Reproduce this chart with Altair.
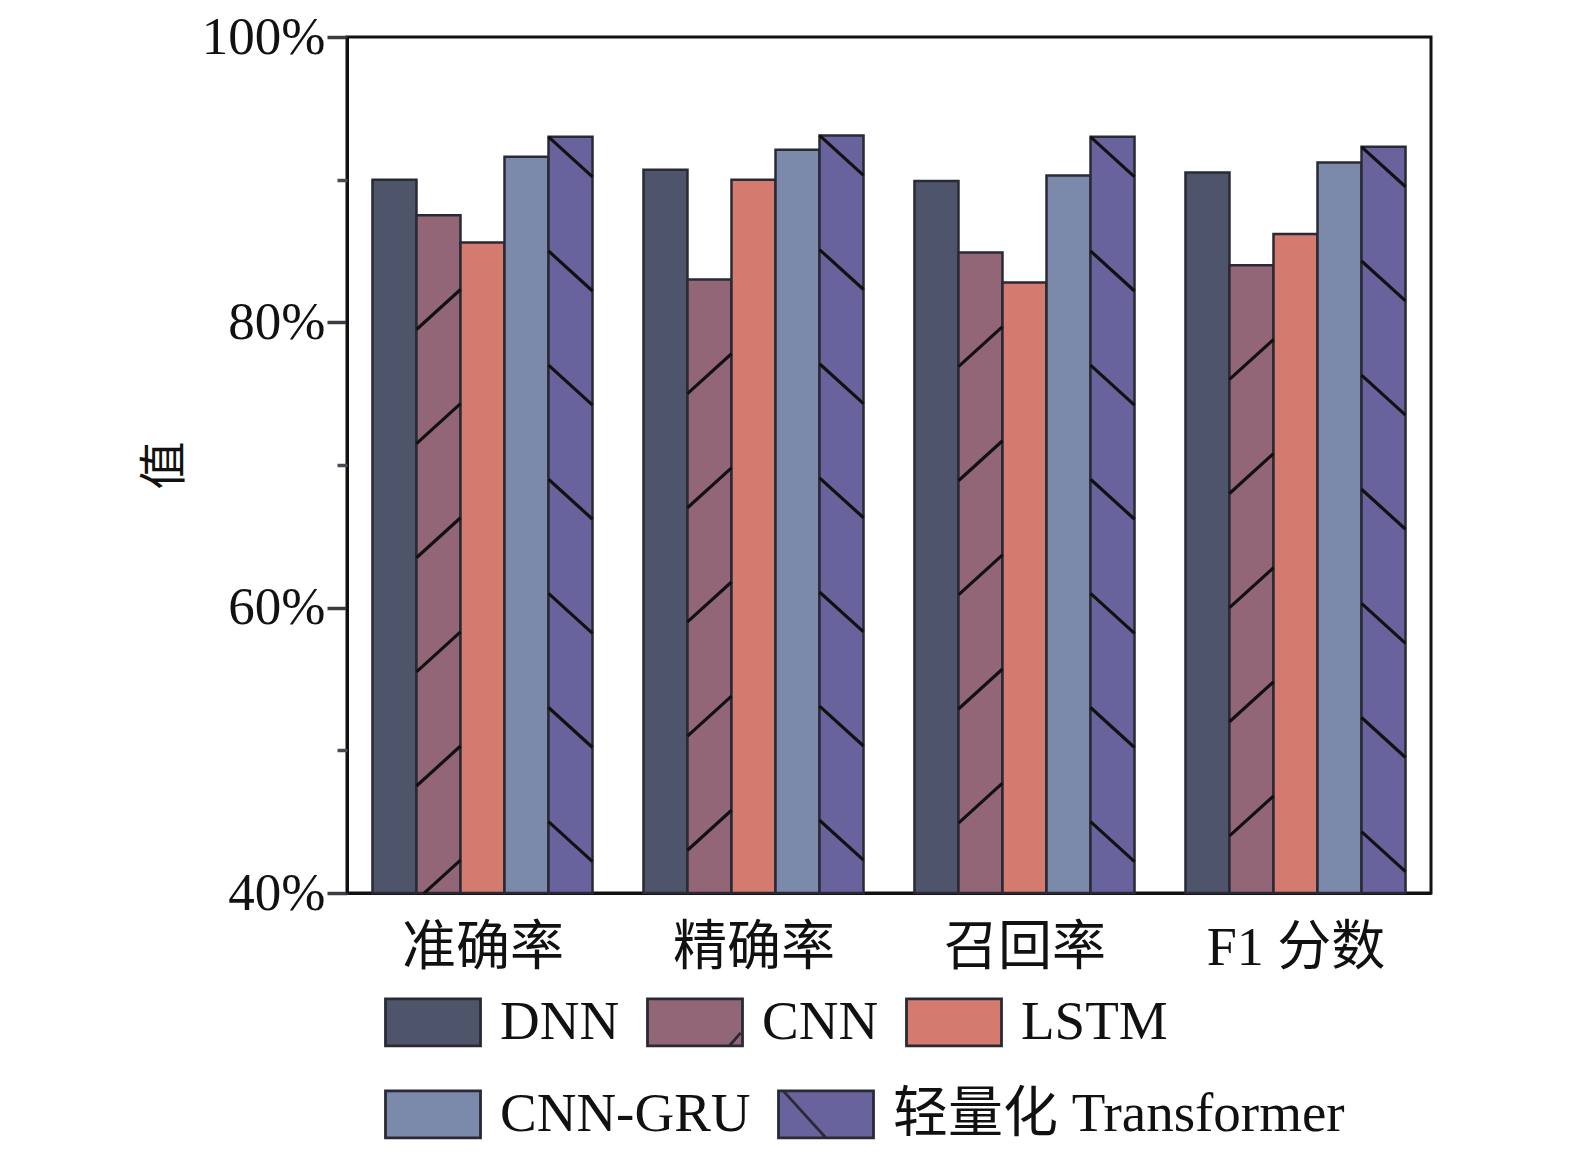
import json
import altair as alt
import pandas as pd

# ---------------- data ----------------
categories = ["准确率", "精确率", "召回率", "F1 分数"]
models = ["DNN", "CNN", "LSTM", "CNN-GRU", "轻量化 Transformer"]
dnn = [90.0, 90.7, 89.9, 90.5]
cnn = [87.5, 83.0, 84.9, 84.0]
lstm = [85.6, 90.0, 82.8, 86.2]
cnn_gru = [91.6, 92.1, 90.3, 91.2]
transformer = [93.0, 93.1, 93.0, 92.3]
y_ticks = [40, 60, 80, 100]
y_minor_ticks = [50, 70, 90]

series = [dnn, cnn, lstm, cnn_gru, transformer]

# ---------------- styles ----------------
colors = ["#4e5469", "#936677", "#d57a6e", "#7b89aa", "#68639d"]
hatch_kind = [None, "/", None, None, "\\"]
RECT = "M-1,-0.495L1,-0.495L1,0.495L-1,0.495Z"
shapes = [RECT, RECT + "M0.72,0.495L0.96,0.22", RECT, RECT, RECT + "M-0.9,-0.495L0,0.495"]
SERIF = "Liberation Serif, Noto Sans CJK SC"
STROKE = "#2a2a36"
GROUP_W = 0.812
BAR_W = GROUP_W / len(models)
Y_MIN, Y_MAX = 40, 100
HATCH_STEP = 8.0
HATCH_DROP = 2.8

rows, hrows = [], []
for g, cat in enumerate(categories):
    for s, m in enumerate(models):
        v = series[s][g]
        x0 = g - GROUP_W / 2 + s * BAR_W
        x1 = x0 + BAR_W
        rows.append({"cat": cat, "model": m, "x0": x0, "x1": x1,
                     "xc": (x0 + x1) / 2, "value": v})
        kind = hatch_kind[s]
        if kind == "/":
            k = 1
            while v - HATCH_STEP * k + HATCH_DROP > Y_MIN:
                yl = v - HATCH_STEP * k
                hrows.append({"x0": x0, "x1": x1, "y0": yl, "y1": yl + HATCH_DROP})
                k += 1
        elif kind == "\\":
            k = 0
            while v - HATCH_STEP * k > Y_MIN:
                yl = v - HATCH_STEP * k
                hrows.append({"x0": x0, "x1": x1, "y0": yl, "y1": yl - HATCH_DROP})
                k += 1

df = pd.DataFrame(rows)
hdf = pd.DataFrame(hrows)

xscale = alt.Scale(domain=[-0.5, len(categories) - 0.5], nice=False, zero=False)
yscale = alt.Scale(domain=[Y_MIN, Y_MAX], nice=False, zero=False)

label_expr = json.dumps(categories, ensure_ascii=False) + "[datum.value]"

xaxis = alt.Axis(values=list(range(len(categories))), labelExpr=label_expr,
                 ticks=False, grid=False, title=None, labelFont=SERIF,
                 labelFontSize=54, labelColor="#111", labelPadding=28,
                 domainColor="#111", domainWidth=3)
yaxis = alt.Axis(values=y_ticks, labelExpr="datum.value + '%'", grid=False,
                 title="值", titleFont="Noto Sans CJK SC", titleFontSize=48,
                 titleFontWeight="normal", titleColor="#111", titleX=-182,
                 titleY=428, titleAlign="center", titleBaseline="middle",
                 labelFont=SERIF, labelFontSize=53, labelColor="#111",
                 labelPadding=2, tickSize=20, tickWidth=3.5, tickColor="#3c3c44",
                 domainColor="#111", domainWidth=3, orient="left")
yaxis_minor = alt.Axis(values=y_minor_ticks, labels=False, grid=False, title=None,
                       domain=False, tickSize=10, tickWidth=3.5,
                       tickColor="#4a4a52", orient="left")


def make_legend(ly):
    return alt.Legend(
        title=None, orient="none", legendX=37, legendY=ly, direction="horizontal",
        columnPadding=21, symbolSize=9025, symbolStrokeWidth=2.8, symbolOpacity=1,
        labelFont=SERIF, labelFontSize=55, labelColor="#111", labelOffset=18,
        padding=0, labelLimit=700)


bars = alt.Chart(df).mark_rect(stroke=STROKE, strokeWidth=2.5).encode(
    x=alt.X("x0:Q", scale=xscale, axis=xaxis),
    x2="x1:Q",
    y=alt.Y("value:Q", scale=yscale, axis=yaxis),
    y2=alt.datum(Y_MIN),
    fill=alt.Fill("model:N", scale=alt.Scale(domain=models, range=colors), legend=None),
)

hatches = alt.Chart(hdf).mark_rule(color="#111111", strokeWidth=3.2, clip=True).encode(
    x=alt.X("x0:Q", scale=xscale, axis=xaxis),
    x2="x1:Q",
    y=alt.Y("y0:Q", scale=yscale, axis=None),
    y2="y1:Q",
)


def legend_layer(idx, ly, yax):
    sub_models = [models[i] for i in idx]
    sub = df[df["model"].isin(sub_models)]
    leg = make_legend(ly)
    return alt.Chart(sub).mark_point(opacity=0, filled=True, strokeWidth=2.8).encode(
        x=alt.X("xc:Q", scale=xscale, axis=xaxis),
        y=alt.Y("value:Q", scale=yscale, axis=yax),
        fill=alt.Fill("model:N", scale=alt.Scale(domain=sub_models,
                      range=[colors[i] for i in idx]), legend=leg),
        stroke=alt.Stroke("model:N", scale=alt.Scale(domain=sub_models,
                          range=[STROKE] * len(idx)), legend=leg),
        shape=alt.Shape("model:N", scale=alt.Scale(domain=sub_models,
                        range=[shapes[i] for i in idx]), legend=leg),
    )


leg_a = legend_layer([0, 1, 2], 936, yaxis_minor)
leg_b = legend_layer([3, 4], 1028, None)

chart = alt.layer(bars, hatches, leg_a, leg_b).resolve_axis(y="independent").resolve_scale(
    fill="independent", shape="independent", stroke="independent").properties(
    width=1084, height=856,
    autosize=alt.AutoSizeParams(type="none"),
    padding={"left": 339, "top": 29, "right": 130, "bottom": 251},
    background="white",
).configure_view(stroke="#111111", strokeWidth=3)

chart.save("out.html", embed_options={"renderer": "svg", "actions": False})
